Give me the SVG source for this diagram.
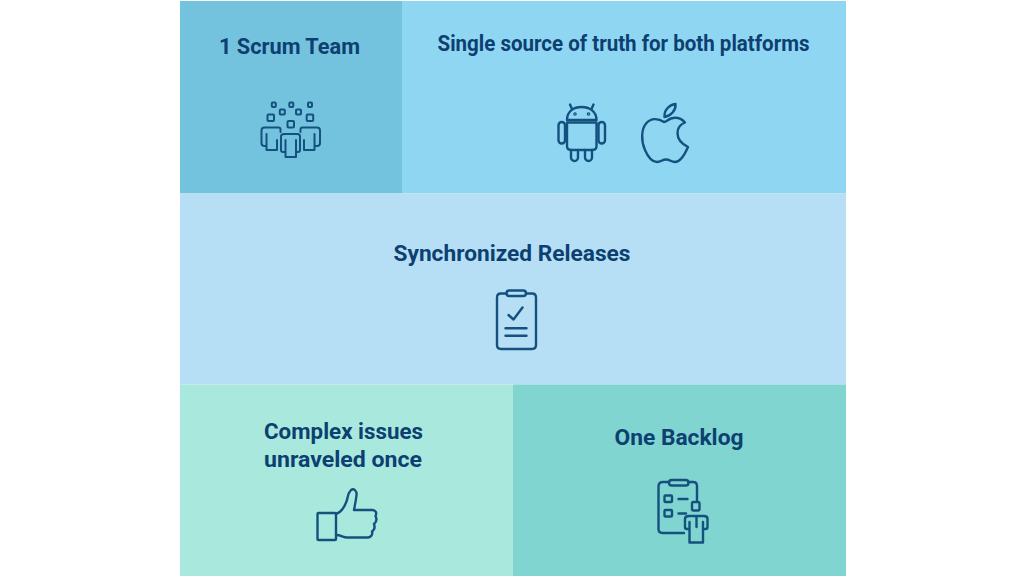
<svg xmlns="http://www.w3.org/2000/svg" width="1024" height="576" viewBox="0 0 1024 576">
<style>
text{font-family:"Roboto","Liberation Sans",sans-serif;font-weight:700;font-size:22.500px;fill:#0d3f71;text-anchor:middle}
.i{fill:none;stroke:#14517f;stroke-width:2.400;stroke-linecap:round;stroke-linejoin:round}
.t{stroke-width:2}
</style>
<rect width="1024" height="576" fill="#fff"/>
<g id="scrum-team">
<rect x="180" y="1" width="222" height="192.500" fill="#74c3de"/>
<text x="289.500" y="54" textLength="141" lengthAdjust="spacingAndGlyphs">1 Scrum Team</text>
<g class="i t">
<rect x="271.800" y="102.500" width="4" height="4.500" rx="1"/><rect x="289.300" y="102.500" width="4" height="4.500" rx="1"/><rect x="308" y="102.500" width="4" height="4.500" rx="1"/>
<rect x="279.800" y="109.500" width="5" height="5" rx="1"/><rect x="296" y="109.500" width="5" height="5" rx="1"/>
<rect x="267.500" y="114.500" width="6.500" height="6.500" rx="1"/><rect x="306.700" y="114.500" width="6.500" height="6.500" rx="1"/><rect x="287.500" y="121" width="6.500" height="6.500" rx="1"/>
<path d="M280.500 132V129.500q0-2-2-2H264.500q-3 0-3 3V143q0 3 3 3h2M266.500 134V150H277V140"/>
<path d="M300.500 132V129.500q0-2 2-2H317q3 0 3 3V143q0 3-3 3h-2.500M314.500 134V150H304V140"/>
<path d="M284 134H297.500q2.500 0 2.500 2.500V150q0 2-2 2H296V157H285.500V152H283q-2 0-2-2V136.500q0-2.500 3-2.500zM285.500 140V152M296 140V152"/>
</g>
</g>
<g id="single-source">
<rect x="402" y="1" width="444" height="192.500" fill="#8fd6f3"/>
<text x="623.500" y="51" textLength="372" lengthAdjust="spacingAndGlyphs">Single source of truth for both platforms</text>
<g class="i">
<path d="M567 120C567 111 574 107 581.500 107S596.500 111 596.500 120ZM572 109L570 104.500M591.500 109L593.500 104.500"/>
<path d="M567 122.500H596.500V146q0 4-4 4H571q-4 0-4-4Z"/>
<rect x="558.500" y="122" width="6.500" height="21.500" rx="3.250"/><rect x="598.500" y="122" width="6.500" height="21.500" rx="3.250"/>
<path d="M571 150V157.500a3.500 3.500 0 0 0 7 0V150M585 150V157.500a3.500 3.500 0 0 0 7 0V150"/>
<circle cx="575" cy="114" r=".6"/><circle cx="588.500" cy="114" r=".6"/>
<path d="M664 122C658 118 651 118 646.500 123C641 129 641 141 645 150C648 157 652 162 657 162C661 162 662 159.500 666 159.500C670 159.500 671 162 675 162C680 162 685 154 688 147C682 144 677.500 139 677.500 133C677.500 128 680 124.500 685 122.500C681 118 676 117 671 118.500C668 119.500 666 122 664 122Z"/>
<path d="M664.500 117C664 110 669 105 675.500 104C676 110.500 671 116 664.500 117Z"/>
</g>
</g>
<g id="synchronized-releases">
<rect x="180" y="193.500" width="666" height="191" fill="#b6dff5"/>
<text x="512" y="261" textLength="237" lengthAdjust="spacingAndGlyphs">Synchronized Releases</text>
<g class="i">
<path d="M506.500 293.500H501q-4 0-4 4V345q0 4 4 4H532q4 0 4-4V297.500q0-4-4-4H526"/>
<rect x="506.500" y="290.500" width="19.500" height="5.500" rx="2.700"/>
<path d="M508.500 315L513.500 319.500L522.500 307.500M505.500 328.300H526.500M505.500 335.700H526.500"/>
</g>
</g>
<g id="complex-issues">
<rect x="180" y="384.500" width="333" height="191.500" fill="#a9e9dd"/>
<text x="343.500" y="439" textLength="159" lengthAdjust="spacingAndGlyphs">Complex issues</text>
<text x="343" y="466.500" textLength="158" lengthAdjust="spacingAndGlyphs">unraveled once</text>
<g class="i">
<rect x="317.500" y="513" width="18.500" height="27" rx="1"/>
<path d="M336 514C342 512 345 506 347 500C348 496 348 493 351 490C354 488 357 491 356.500 495C356 500 355 505 354 510H372C376 510 377 513 375.500 516C377 519 376.500 522 374 524C375 527 374.500 530 372 531.500C373 534.500 371 537 368 537.500H347C343 537.500 341 535 336 535"/>
</g>
</g>
<g id="one-backlog">
<rect x="513" y="384.500" width="333" height="191.500" fill="#80d5d0"/>
<text x="679" y="445" textLength="129" lengthAdjust="spacingAndGlyphs">One Backlog</text>
<g class="i">
<path d="M669 482H663q-4.500 0-4.500 4.500V529q0 4 4 4H684M688.500 482H693q4 0 4 4V500.500"/>
<rect x="669" y="480" width="19.500" height="5.500" rx="2.700"/>
<rect x="664.500" y="495.500" width="7.500" height="6.500" rx="1"/><rect x="664.500" y="510" width="7.500" height="6.500" rx="1"/>
<path d="M678.500 499H687.500M678.500 513.500H686"/>
<rect x="692" y="502" width="7.500" height="8.500" rx="1.500"/>
<path d="M689 516H704q3.500 0 3.500 3V527q0 2-2 2H703V542.500H689.500V529H687q-2 0-2-2V519q0-3 4-3ZM689.500 522V529M703 522V529M696.500 516V527"/>
</g>
</g>
</svg>
